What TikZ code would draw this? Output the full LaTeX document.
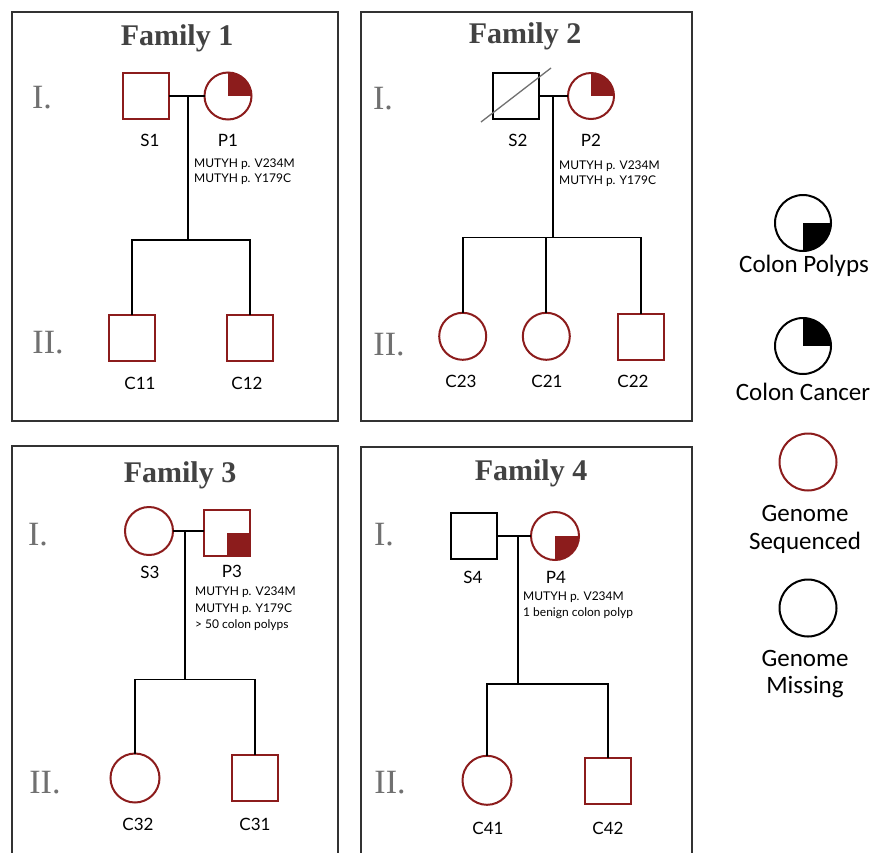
\documentclass[tikz,border=0pt]{standalone}
\usepackage{fontspec}
\setmainfont{Lato}
\newfontfamily\slabfont{Liberation Serif}
\newfontfamily\keyfont{Carlito}
\usepackage{tikz}
\usetikzlibrary{positioning}
\definecolor{pedred}{RGB}{140,28,28}
\definecolor{boxgray}{RGB}{50,50,50}
\definecolor{titlegray}{RGB}{66,66,66}
\definecolor{gengray}{RGB}{112,112,112}

\begin{document}
\begin{tikzpicture}[x=1pt,y=-1pt,
    person/.style={line width=2pt,outer sep=0pt,inner sep=0pt},
    male/.style={person,rectangle,draw=pedred,minimum size=46pt},
    female/.style={person,circle,draw=pedred,minimum size=48pt},
    cancer/.style={path picture={\fill[#1] (path picture bounding box.center) rectangle (path picture bounding box.north east);}},
    cancer/.default=pedred,
    polyps/.style={path picture={\fill[#1] (path picture bounding box.center) rectangle (path picture bounding box.south east);}},
    polyps/.default=pedred,
    famtitle/.style={anchor=base,inner sep=0pt,text=titlegray,font=\slabfont\bfseries\fontsize{30}{30}\selectfont},
    gen/.style={anchor=base,inner sep=0pt,text=gengray,font=\slabfont\fontsize{34}{34}\selectfont},
    lbl/.style={anchor=base,inner sep=0pt,font=\fontsize{17}{17}\selectfont},
    note/.style={anchor=north west,inner sep=0pt,align=left,font=\fontsize{12}{15.5}\selectfont},
    key/.style={anchor=north,inner sep=0pt,align=center,font=\keyfont\fontsize{25}{27.5}\selectfont},
    famline/.style={line width=1.8pt,black},
    frame/.style={line width=1.3pt,draw=boxgray}]
  \clip (0,0) rectangle (875,852);
  \fill[white] (0,0) rectangle (875,852);

  % Family 1
  \draw[frame] (12,12) rectangle (338,421);
  \node[famtitle] (t1) at (177,45) {Family 1};
  \node[gen] (g1a) at (42,108) {I.};
  \node[gen] (g1b) at (48,353) {II.};
  \node[male] (S1) at (146,96) {};
  \node[female,cancer,minimum size=47pt] (P1) at (228,96) {};
  \node[male] (C11) at (132,338) {};
  \node[male] (C12) at (250,338) {};
  \coordinate (m1) at (188,96);
  \coordinate (sib1) at (188,240);
  \draw[famline] (S1) -- (P1);
  \draw[famline] (m1) -- (sib1);
  \draw[famline] (C11.north) |- (sib1) -| (C12.north);
  \node[lbl] (lS1) at (150,146) {S1};
  \node[lbl] (lP1) at (228,146) {P1};
  \node[lbl] (lC11) at (140,389) {C11};
  \node[lbl] (lC12) at (247,389) {C12};
  \node[note] (n1) at (194,158.5) {MUTYH p. V234M\\MUTYH p. Y179C};

  % Family 2
  \draw[frame] (361,12) rectangle (692,421);
  \node[famtitle] (t2) at (525,43) {Family 2};
  \node[gen] (g2a) at (383,109) {I.};
  \node[gen] (g2b) at (389,355) {II.};
  \node[male,draw=black] (S2) at (516,96) {};
  \node[female,cancer,minimum size=46pt] (P2) at (591,96) {};
  \coordinate (d2a) at (481,122);
  \coordinate (d2b) at (551,68);
  \draw[line width=1.3pt,gengray] (d2a) -- (d2b);
  \node[female,minimum size=47pt] (C23) at (462.7,336.3) {};
  \node[female,minimum size=47pt] (C21) at (546.3,336.3) {};
  \node[male] (C22) at (641,337) {};
  \coordinate (m2) at (553,96);
  \coordinate (sib2) at (553,237.5);
  \draw[famline] (S2) -- (P2);
  \draw[famline] (m2) -- (sib2);
  \draw[famline] (C23.north) |- (sib2) -| (C22.north);
  \draw[famline] (C21.north) -- (C21.north |- sib2);
  \node[lbl] (lS2) at (518,146) {S2};
  \node[lbl] (lP2) at (591,146) {P2};
  \node[lbl] (lC23) at (461,387) {C23};
  \node[lbl] (lC21) at (547,387) {C21};
  \node[lbl] (lC22) at (633,387) {C22};
  \node[note] (n2) at (559,160.5) {MUTYH p. V234M\\MUTYH p. Y179C};

  % Family 3
  \draw[frame] (12,446) rectangle (338,880);
  \node[famtitle] (t3) at (180,482) {Family 3};
  \node[gen] (g3a) at (38,545) {I.};
  \node[gen] (g3b) at (45,793) {II.};
  \node[female] (S3) at (149,531) {};
  \node[male,polyps] (P3) at (227,533) {};
  \node[female,minimum size=49pt] (C32) at (135,778) {};
  \node[male] (C31) at (255,778) {};
  \coordinate (m3) at (185,531);
  \coordinate (sib3) at (185,679.5);
  \draw[famline] (S3.east) -- (S3.east -| P3.west);
  \draw[famline] (m3) -- (sib3);
  \draw[famline] (C32.north) |- (sib3) -| (C31.north);
  \node[lbl] (lS3) at (150,578) {S3};
  \node[lbl] (lP3) at (232,577) {P3};
  \node[lbl] (lC32) at (138,830) {C32};
  \node[lbl] (lC31) at (255,830) {C31};
  \node[note,font=\fontsize{12}{16.7}\selectfont] (n3) at (195,586.5) {MUTYH p. V234M\\MUTYH p. Y179C\\> 50 colon polyps};

  % Family 4
  \draw[frame] (361,447) rectangle (692,880);
  \node[famtitle] (t4) at (531,480) {Family 4};
  \node[gen] (g4a) at (384,545) {I.};
  \node[gen] (g4b) at (390,793) {II.};
  \node[male,draw=black] (S4) at (474,536) {};
  \node[female,polyps] (P4) at (555,536) {};
  \node[female,minimum size=49pt] (C41) at (487,780.3) {};
  \node[male] (C42) at (608,781) {};
  \coordinate (m4) at (518,536);
  \coordinate (sib4) at (518,684);
  \draw[famline] (S4) -- (P4);
  \draw[famline] (m4) -- (sib4);
  \draw[famline] (C41.north) |- (sib4) -| (C42.north);
  \node[lbl] (lS4) at (473,583) {S4};
  \node[lbl] (lP4) at (556,583) {P4};
  \node[lbl] (lC41) at (488,834) {C41};
  \node[lbl] (lC42) at (608,834) {C42};
  \node[note,font=\fontsize{12}{16}\selectfont] (n4) at (523,591.5) {MUTYH p. V234M\\1 benign colon polyp};

  % key
  \node[female,draw=black,polyps=black,minimum size=56pt] (kp) at (803,223) {};
  \node[key] (kpl) at (804,255) {Colon Polyps};
  \node[female,draw=black,cancer=black,minimum size=56pt] (kc) at (803,346) {};
  \node[key] (kcl) at (803,383) {Colon Cancer};
  \node[female,minimum size=57pt] (ks) at (808,462) {};
  \node[key] (ksl) at (805,505.5) {Genome\\Sequenced};
  \node[female,draw=black,minimum size=57pt] (km) at (808,608) {};
  \node[key] (kml) at (805,650) {Genome\\Missing};
\end{tikzpicture}
\end{document}
